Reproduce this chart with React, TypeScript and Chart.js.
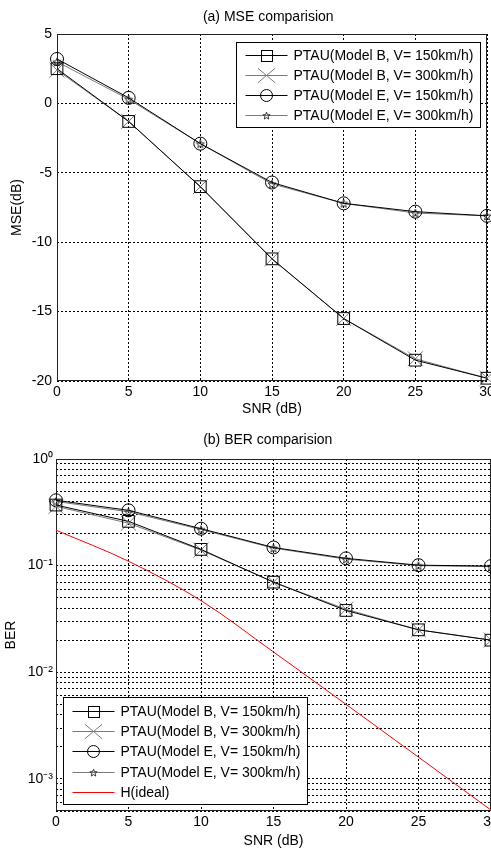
import React, { useEffect, useRef } from "react";
import { Chart, registerables } from "chart.js";

Chart.register(...registerables);

const FONT = "'Liberation Sans', Arial, Helvetica, sans-serif";

// ---------- data ----------
const snr = [0, 5, 10, 15, 20, 25, 30];
const xTickStep = 5;

const mseB150 = [2.5, -1.3, -6.0, -11.2, -15.5, -18.5, -19.8];
const mseB300 = [2.4, -1.3, -6.0, -11.2, -15.5, -18.4, -19.8];
const mseE150 = [3.2, 0.4, -2.9, -5.7, -7.2, -7.8, -8.1];
const mseE300 = [3.0, 0.3, -2.9, -5.8, -7.2, -7.9, -8.1];
const mseMin = -20;
const mseMax = 5;
const mseStep = 5;

const berB150 = [0.37, 0.26, 0.142, 0.07, 0.038, 0.025, 0.02];
const berB300 = [0.36, 0.25, 0.14, 0.07, 0.039, 0.025, 0.02];
const berE150 = [0.41, 0.33, 0.222, 0.148, 0.117, 0.101, 0.099];
const berE300 = [0.4, 0.32, 0.218, 0.146, 0.115, 0.1, 0.098];
const berIdeal = [0.215, 0.11, 0.047, 0.0155, 0.005, 0.0016, 0.00051];
const berMin = 0.0005;
const berMax = 1;
const berDecades = [0.0001, 0.001, 0.01, 0.1, 1];
const berMultipliers = [1, 2, 3, 4, 5, 6, 7, 8, 9];
const berDecadeLabels = ["10\u2070", "10\u207B\u00B9", "10\u207B\u00B2", "10\u207B\u00B3"];

const labels = [
  "PTAU(Model B, V= 150km/h)",
  "PTAU(Model B, V= 300km/h)",
  "PTAU(Model E, V= 150km/h)",
  "PTAU(Model E, V= 300km/h)",
  "H(ideal)",
];

const titleA = "(a) MSE comparision";
const titleB = "(b) BER comparision";
const xTitle = "SNR (dB)";
const yTitleA = "MSE(dB)";
const yTitleB = "BER";

// ---------- helpers ----------
function pts(ys: number[]) {
  return snr.map((x, i) => ({ x, y: ys[i] }));
}

function makeStar(size: number, color: string) {
  const c = document.createElement("canvas");
  c.width = size;
  c.height = size;
  const ctx = c.getContext("2d")!;
  const cx = size / 2;
  const cy = size / 2 + 0.5;
  const R = size / 2 - 0.7;
  const r = R * 0.42;
  ctx.beginPath();
  for (let i = 0; i < 10; i++) {
    const a = -Math.PI / 2 + (i * Math.PI) / 5;
    const rr = i % 2 === 0 ? R : r;
    ctx.lineTo(cx + rr * Math.cos(a), cy + rr * Math.sin(a));
  }
  ctx.closePath();
  ctx.strokeStyle = color;
  ctx.lineWidth = 1;
  ctx.stroke();
  return c;
}

function drawMarker(ctx: CanvasRenderingContext2D, kind: string, x: number, y: number, color: string, size: number, img?: HTMLCanvasElement) {
  ctx.save();
  ctx.strokeStyle = color;
  ctx.lineWidth = 1;
  if (kind === "rect") {
    ctx.strokeRect(Math.round(x - size / 2) + 0.5, Math.round(y - size / 2) + 0.5, size, size);
  } else if (kind === "cross") {
    const w = size / 2;
    const h = size * 0.42;
    ctx.beginPath();
    ctx.moveTo(x - w, y - h);
    ctx.lineTo(x + w, y + h);
    ctx.moveTo(x - w, y + h);
    ctx.lineTo(x + w, y - h);
    ctx.stroke();
  } else if (kind === "circle") {
    ctx.beginPath();
    ctx.arc(x, y, size / 2, 0, Math.PI * 2);
    ctx.stroke();
  } else if (kind === "star" && img) {
    ctx.drawImage(img, Math.round(x - img.width / 2), Math.round(y - img.height / 2));
  }
  ctx.restore();
}

// forces the plot area to a fixed rectangle, then re-configures the scales
const fixAreaPlugin = {
  id: "fixArea",
  afterLayout(chart: any, _args: any, opts: any) {
    if (!opts || opts.left === undefined) return;
    const a = chart.chartArea;
    a.left = opts.left;
    a.right = opts.right;
    a.top = opts.top;
    a.bottom = opts.bottom;
    a.width = a.right - a.left;
    a.height = a.bottom - a.top;
    const xs = chart.scales.x;
    const ys = chart.scales.y;
    xs.left = a.left;
    xs.right = a.right;
    xs.width = a.width;
    xs.top = a.bottom;
    xs.bottom = chart.height;
    xs.height = xs.bottom - xs.top;
    xs.configure();
    ys.left = 0;
    ys.right = a.left;
    ys.width = a.left;
    ys.top = a.top;
    ys.bottom = a.bottom;
    ys.height = a.height;
    ys.configure();
  },
};

const framePlugin = {
  id: "frameBox",
  beforeDatasetsDraw(chart: any) {
    const { ctx, chartArea } = chart;
    ctx.save();
    ctx.strokeStyle = "#222";
    ctx.lineWidth = 1;
    const l = Math.round(chartArea.left) + 0.5;
    const t = Math.round(chartArea.top) + 0.5;
    const r = Math.round(chartArea.right) - 0.5;
    const b = Math.round(chartArea.bottom) - 0.5;
    ctx.strokeRect(l, t, r - l, b - t);
    ctx.restore();
  },
};

const legendPlugin = {
  id: "boxLegend",
  afterDraw(chart: any, _args: any, opts: any) {
    if (!opts || !opts.corner) return;
    const { ctx, chartArea } = chart;
    const items = chart.data.datasets;
    ctx.save();
    ctx.font = `14px ${FONT}`;
    const widths = items.map((d: any) => ctx.measureText(d.label).width);
    const w = Math.round(57 + Math.max(...widths) + 7);
    const h = Math.round(opts.padTop + (items.length - 1) * opts.rowH + opts.padBottom);
    let x0: number;
    let y0: number;
    if (opts.corner === "topRight") {
      x0 = chartArea.right - opts.insetX - w;
      y0 = chartArea.top + opts.insetY;
    } else {
      x0 = chartArea.left + opts.insetX;
      y0 = chartArea.bottom - opts.insetY - h;
    }
    x0 = Math.round(x0) + 0.5;
    y0 = Math.round(y0) + 0.5;
    ctx.fillStyle = "#fff";
    ctx.fillRect(x0, y0, w, h);
    ctx.strokeStyle = "#000";
    ctx.lineWidth = 1;
    ctx.strokeRect(x0, y0, w, h);
    items.forEach((d: any, i: number) => {
      const y = Math.round(y0 + opts.padTop + i * opts.rowH) + 0.5;
      ctx.strokeStyle = d.borderColor;
      ctx.lineWidth = 1;
      ctx.beginPath();
      ctx.moveTo(x0 + 9, y);
      ctx.lineTo(x0 + 51, y);
      ctx.stroke();
      if (d.legendMarker) drawMarker(ctx, d.legendMarker, x0 + 30, y, d.legendMarkerColor, d.legendSize, d.legendImg);
      ctx.fillStyle = "#000";
      ctx.textBaseline = "middle";
      ctx.textAlign = "left";
      ctx.fillText(d.label, x0 + 57, y + 1);
    });
    ctx.restore();
  },
};

function seriesSets(values: number[][], starImg: HTMLCanvasElement, legendStar: HTMLCanvasElement) {
  const black = "#000";
  const gray = "#7a7a7a";
  return [
    {
      label: labels[0], data: pts(values[0]), borderColor: black, borderWidth: 1,
      pointStyle: "rect", pointRadius: 8.3, pointBorderColor: black, pointBorderWidth: 1,
      pointBackgroundColor: "rgba(0,0,0,0)", legendMarker: "rect", legendMarkerColor: black, legendSize: 11,
    },
    {
      label: labels[1], data: pts(values[1]), borderColor: gray, borderWidth: 1,
      pointStyle: "crossRot", pointRadius: 10.5, pointBorderColor: gray, pointBorderWidth: 1,
      pointBackgroundColor: "rgba(0,0,0,0)", legendMarker: "cross", legendMarkerColor: gray, legendSize: 17,
    },
    {
      label: labels[2], data: pts(values[2]), borderColor: black, borderWidth: 1,
      pointStyle: "circle", pointRadius: 6.5, pointBorderColor: black, pointBorderWidth: 1,
      pointBackgroundColor: "rgba(0,0,0,0)", legendMarker: "circle", legendMarkerColor: black, legendSize: 12,
    },
    {
      label: labels[3], data: pts(values[3]), borderColor: gray, borderWidth: 1,
      pointStyle: starImg, pointRadius: 5, pointBorderColor: "#333", pointBorderWidth: 1,
      pointBackgroundColor: "rgba(0,0,0,0)", legendMarker: "star", legendMarkerColor: "#333", legendSize: 9,
      legendImg: legendStar,
    },
  ];
}

function commonX(height: number, titlePadBottom: number) {
  return {
    type: "linear",
    min: snr[0],
    max: snr[snr.length - 1],
    ticks: { stepSize: xTickStep, color: "#000", font: { family: FONT, size: 14 }, padding: 3, maxRotation: 0, autoSkip: false },
    grid: { color: "#000", lineWidth: 1, drawTicks: false },
    border: { display: false, dash: [2, 2] },
    title: { display: true, text: xTitle, color: "#000", font: { family: FONT, size: 14 }, padding: { top: 0, bottom: titlePadBottom } },
    afterFit: (s: any) => {
      s.height = height;
      s.paddingLeft = 0;
      s.paddingRight = 0;
    },
  };
}

function MseChart() {
  const ref = useRef<HTMLCanvasElement>(null);
  useEffect(() => {
    const star = makeStar(10, "#333");
    const lstar = makeStar(9, "#333");
    const chart = new Chart(ref.current!, {
      type: "line",
      data: { datasets: seriesSets([mseB150, mseB300, mseE150, mseE300], star, lstar) as any },
      plugins: [fixAreaPlugin, framePlugin, legendPlugin],
      options: {
        responsive: false,
        animation: false,
        events: [],
        devicePixelRatio: 1,
        layout: { padding: { left: 0, right: 5, top: 0, bottom: 0 } },
        datasets: { line: { clip: false, tension: 0 } } as any,
        scales: {
          x: commonX(40, 2) as any,
          y: {
            type: "linear",
            min: mseMin,
            max: mseMax,
            ticks: { stepSize: mseStep, color: "#000", font: { family: FONT, size: 14 }, padding: 5 },
            grid: { color: "#000", lineWidth: 1, drawTicks: false },
            border: { display: false, dash: [2, 2] },
            title: { display: true, text: yTitleA, color: "#000", font: { family: FONT, size: 14 }, padding: { top: 9, bottom: 0 } },
            afterFit: (s: any) => {
              s.width = 57;
              s.paddingTop = 0;
              s.paddingBottom = 0;
            },
          } as any,
        },
        plugins: {
          legend: { display: false },
          tooltip: { enabled: false },
          title: {
            display: true, text: titleA, fullSize: false, color: "#000",
            font: { family: FONT, size: 14, weight: "normal" }, padding: { top: 9, bottom: 8 },
          },
          fixArea: { left: 57, right: 487, top: 34, bottom: 381 },
          boxLegend: { corner: "topRight", insetX: 7, insetY: 8, padTop: 12, padBottom: 13, rowH: 20 },
        } as any,
      },
    } as any);
    return () => chart.destroy();
  }, []);
  return <canvas ref={ref} width={491} height={420} style={{ display: "block", width: 491, height: 420 }} />;
}

function BerChart() {
  const ref = useRef<HTMLCanvasElement>(null);
  useEffect(() => {
    const star = makeStar(10, "#333");
    const lstar = makeStar(9, "#333");
    const sets: any[] = seriesSets([berB150, berB300, berE150, berE300], star, lstar);
    sets.push({
      label: labels[4], data: pts(berIdeal), borderColor: "#ff0000", borderWidth: 1,
      pointRadius: 0, cubicInterpolationMode: "monotone",
    });
    const tickValues: number[] = [];
    berDecades.forEach((d) => berMultipliers.forEach((m) => {
      const v = m * d;
      if (v >= berMin * 0.999 && v <= berMax * 1.001) tickValues.push(v);
    }));
    const chart = new Chart(ref.current!, {
      type: "line",
      data: { datasets: sets },
      plugins: [fixAreaPlugin, framePlugin, legendPlugin],
      options: {
        responsive: false,
        animation: false,
        events: [],
        devicePixelRatio: 1,
        layout: { padding: { left: 0, right: 1, top: 0, bottom: 0 } },
        datasets: { line: { clip: false, tension: 0 } } as any,
        scales: {
          x: commonX(39, 0) as any,
          y: {
            type: "logarithmic",
            min: berMin,
            max: berMax,
            afterBuildTicks: (s: any) => {
              s.ticks = tickValues.map((v) => ({ value: v }));
            },
            ticks: {
              autoSkip: false,
              color: "#000",
              font: { family: FONT, size: 14 },
              padding: 3,
              callback: (v: number) => {
                const k = Math.round(-Math.log10(v));
                return Math.abs(Math.log10(v) + k) < 1e-6 && k >= 0 && k < berDecadeLabels.length ? berDecadeLabels[k] : "";
              },
            },
            grid: { color: "#000", lineWidth: 1, drawTicks: false },
            border: { display: false, dash: [2, 2] },
            title: { display: true, text: yTitleB, color: "#000", font: { family: FONT, size: 14 }, padding: { top: 3, bottom: 0 } },
            afterFit: (s: any) => {
              s.width = 56;
              s.paddingTop = 0;
              s.paddingBottom = 0;
            },
          } as any,
        },
        plugins: {
          legend: { display: false },
          tooltip: { enabled: false },
          title: {
            display: true, text: titleB, fullSize: false, color: "#000",
            font: { family: FONT, size: 14, weight: "normal" }, padding: { top: 12, bottom: 10 },
          },
          fixArea: { left: 56, right: 491, top: 39, bottom: 391 },
          boxLegend: { corner: "bottomLeft", insetX: 7, insetY: 7, padTop: 13, padBottom: 12, rowH: 20.4 },
        } as any,
      },
    } as any);
    return () => chart.destroy();
  }, []);
  return <canvas ref={ref} width={491} height={430} style={{ display: "block", width: 491, height: 430 }} />;
}

export default function App() {
  return (
    <div style={{ position: "absolute", left: 0, top: 0, width: 491, height: 850, overflow: "hidden", background: "#fff" }}>
      <MseChart />
      <BerChart />
    </div>
  );
}
